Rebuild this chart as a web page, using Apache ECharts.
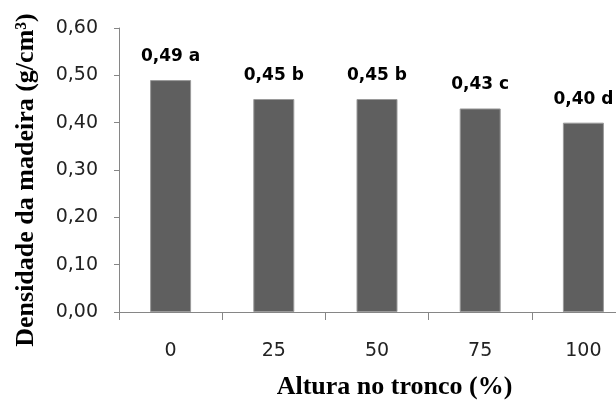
<!DOCTYPE html>
<html>
<head>
<meta charset="utf-8">
<script src="https://cdn.jsdelivr.net/npm/echarts@6/dist/echarts.min.js"></script>
<style>
html,body{margin:0;padding:0;background:#fff;}
#chart{width:616px;height:400px;}
</style>
</head>
<body>
<div id="chart"></div>
<script>
const categories = ['0', '25', '50', '75', '100'];
const densityValues = [0.49, 0.45, 0.45, 0.43, 0.40];
const significanceLetters = ['a', 'b', 'b', 'c', 'd'];
const yTickValues = [0, 0.1, 0.2, 0.3, 0.4, 0.5, 0.6];

const fmt = v => v.toFixed(2).replace('.', ',');

const chart = echarts.init(document.getElementById('chart'), null, {renderer: 'canvas'});
chart.setOption({
  animation: false,
  backgroundColor: '#ffffff',
  grid: {left: 119, top: 28, width: 516, height: 284, containLabel: false, outerBoundsMode: 'none'},
  xAxis: {
    type: 'category',
    data: categories,
    name: 'Altura no tronco (%)',
    nameLocation: 'middle',
    nameGap: 62,
    nameTextStyle: {
      fontFamily: '"Liberation Serif", "DejaVu Serif", serif',
      fontWeight: 'bold',
      fontSize: 26,
      color: '#000',
      padding: [0, 0, 0, 35]
    },
    axisLine: {show: true, lineStyle: {color: '#868686', width: 1}},
    axisTick: {show: true, alignWithLabel: false, length: 8, lineStyle: {color: '#868686'}},
    axisLabel: {
      margin: 30,
      fontFamily: '"DejaVu Sans", sans-serif',
      fontSize: 19,
      color: '#222'
    },
    splitLine: {show: false}
  },
  yAxis: {
    type: 'value',
    min: yTickValues[0],
    max: yTickValues[yTickValues.length - 1],
    interval: 0.1,
    name: 'Densidade da madeira (g/cm³)',
    nameLocation: 'middle',
    nameGap: 80,
    nameTextStyle: {
      fontFamily: '"Liberation Serif", "DejaVu Serif", serif',
      fontWeight: 'bold',
      fontSize: 26,
      color: '#000',
      padding: [0, 20, 0, 0]
    },
    axisLine: {show: true, lineStyle: {color: '#868686', width: 1}},
    axisTick: {show: true, length: 5, lineStyle: {color: '#868686'}},
    axisLabel: {
      margin: 21,
      fontFamily: '"DejaVu Sans", sans-serif',
      fontSize: 19,
      color: '#222',
      formatter: v => fmt(v)
    },
    splitLine: {show: false}
  },
  series: [{
    type: 'bar',
    data: densityValues,
    barWidth: 41,
    itemStyle: {color: '#5f5f5f', borderColor: '#9a9a9a', borderWidth: 1},
    label: {
      show: true,
      position: 'top',
      distance: 15,
      fontFamily: '"DejaVu Sans", sans-serif',
      fontWeight: 'bold',
      fontSize: 17,
      color: '#000',
      formatter: p => fmt(p.value) + ' ' + significanceLetters[p.dataIndex]
    }
  }]
});
</script>
</body>
</html>
